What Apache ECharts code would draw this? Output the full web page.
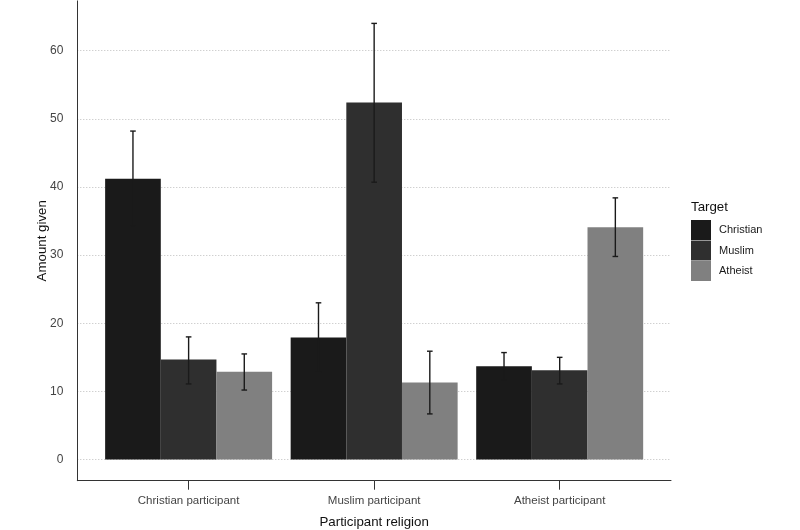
<!DOCTYPE html>
<html>
<head>
<meta charset="utf-8">
<script src="https://cdn.jsdelivr.net/npm/echarts@6/dist/echarts.min.js"></script>
<style>
html,body{margin:0;padding:0;background:#fff;}
#chart{width:800px;height:530px;}
</style>
</head>
<body>
<div id="chart"></div>
<script>
// ---- data ----
var categories = ['Christian participant', 'Muslim participant', 'Atheist participant'];
var targets = ['Christian', 'Muslim', 'Atheist'];
var christianVals = [41.2, 17.9, 13.7];
var muslimVals = [14.7, 52.4, 13.1];
var atheistVals = [12.9, 11.3, 34.1];
var christianLow = [34.3, 12.8, 11.7];
var christianHigh = [48.2, 23.0, 15.7];
var muslimLow = [11.1, 40.7, 11.1];
var muslimHigh = [18.0, 64.0, 15.0];
var atheistLow = [10.2, 6.7, 29.8];
var atheistHigh = [15.5, 15.9, 38.4];
var yMin = -3.1, yMax = 67.3;

// ---- build ----
var FONT = '"Liberation Sans", Arial, sans-serif';
var colors = ['#1a1a1a', '#2f2f2f', '#808080'];
var valueSets = [christianVals, muslimVals, atheistVals];
var lows = [christianLow, muslimLow, atheistLow];
var highs = [christianHigh, muslimHigh, atheistHigh];

var errData = [];
for (var s = 0; s < 3; s++) {
  for (var c = 0; c < categories.length; c++) {
    errData.push([c, s, lows[s][c], highs[s][c]]);
  }
}

var gridTop = 0.9, gridBottom = 49.3, gridLeft = 77.3, gridRight = 129;
var band = (800 - gridLeft - gridRight) / 3.2;

var series = targets.map(function (t, i) {
  return {
    name: t,
    type: 'bar',
    xAxisIndex: 1,
    yAxisIndex: 1,
    data: valueSets[i],
    barWidth: '30%',
    barGap: '0%',
    itemStyle: { color: colors[i] },
    z: 2
  };
});

series.push({
  type: 'custom',
  xAxisIndex: 1,
  yAxisIndex: 1,
  z: 5,
  encode: { x: 0, y: [2, 3] },
  data: errData,
  renderItem: function (params, api) {
    var ci = api.value(0), si = api.value(1);
    var bw = api.size([1, 0])[0];
    var center = api.coord([ci, 0])[0] + (si - 1) * bw * 0.3;
    var yl = api.coord([ci, api.value(2)])[1];
    var yh = api.coord([ci, api.value(3)])[1];
    var hw = 2.8;
    var st = { stroke: '#1a1a1a', lineWidth: 1.4 };
    return {
      type: 'group',
      children: [
        { type: 'line', shape: { x1: center, y1: yl, x2: center, y2: yh }, style: st },
        { type: 'line', shape: { x1: center - hw, y1: yh, x2: center + hw, y2: yh }, style: st },
        { type: 'line', shape: { x1: center - hw, y1: yl, x2: center + hw, y2: yl }, style: st }
      ]
    };
  }
});

var yAxisCommon = {
  type: 'value',
  min: yMin,
  max: yMax,
  splitNumber: 7
};

var option = {
  animation: false,
  backgroundColor: '#ffffff',
  textStyle: { fontFamily: FONT },
  title: {
    text: 'Target',
    left: 691,
    top: 201,
    padding: 0,
    textStyle: { fontFamily: FONT, fontSize: 13.3, fontWeight: 'normal', color: '#111' }
  },
  legend: {
    data: targets,
    orient: 'vertical',
    left: 691,
    top: 220,
    itemWidth: 20,
    itemHeight: 20,
    itemGap: 0.5,
    padding: 0,
    icon: 'rect',
    textStyle: { fontFamily: FONT, fontSize: 11, color: '#1a1a1a', padding: [0, 0, 0, 3] }
  },
  grid: [
    { left: gridLeft, right: gridRight, top: gridTop, bottom: gridBottom, containLabel: false, outerBoundsMode: 'none' },
    { left: gridLeft + 0.1 * band, right: gridRight + 0.1 * band, top: gridTop, bottom: gridBottom, containLabel: false, outerBoundsMode: 'none' }
  ],
  xAxis: [
    {
      gridIndex: 0,
      type: 'value',
      min: 0,
      max: 1,
      axisLine: { show: true, onZero: false, lineStyle: { color: '#333', width: 1 } },
      axisTick: { show: false },
      axisLabel: { show: false },
      splitLine: { show: false },
      name: 'Participant religion',
      nameLocation: 'middle',
      nameGap: 35.5,
      nameMoveOverlap: false,
      nameTextStyle: { fontFamily: FONT, fontSize: 13.3, color: '#111' }
    },
    {
      gridIndex: 1,
      type: 'category',
      data: categories,
      boundaryGap: true,
      axisLine: { show: false, onZero: false },
      axisTick: { show: true, alignWithLabel: true, length: 9, lineStyle: { color: '#333', width: 1 } },
      axisLabel: { fontFamily: FONT, fontSize: 11.5, color: '#444', margin: 14.5 },
      splitLine: { show: false }
    }
  ],
  yAxis: [
    Object.assign({}, yAxisCommon, {
      gridIndex: 0,
      axisLine: { show: true, onZero: false, lineStyle: { color: '#333', width: 1 } },
      axisTick: { show: false },
      axisLabel: { fontFamily: FONT, fontSize: 12, color: '#444', margin: 14, showMinLabel: false, showMaxLabel: false },
      splitLine: { show: true, showMinLine: false, showMaxLine: false, lineStyle: { color: '#bdbdbd', type: [1, 2], width: 1 } },
      name: 'Amount given',
      nameLocation: 'middle',
      nameGap: 28,
      nameMoveOverlap: false,
      nameRotate: 90,
      nameTextStyle: { fontFamily: FONT, fontSize: 13.3, color: '#111' }
    }),
    Object.assign({}, yAxisCommon, {
      gridIndex: 1,
      show: false
    })
  ],
  series: series
};

var chart = echarts.init(document.getElementById('chart'), null, { renderer: 'canvas' });
chart.setOption(option);
</script>
</body>
</html>
